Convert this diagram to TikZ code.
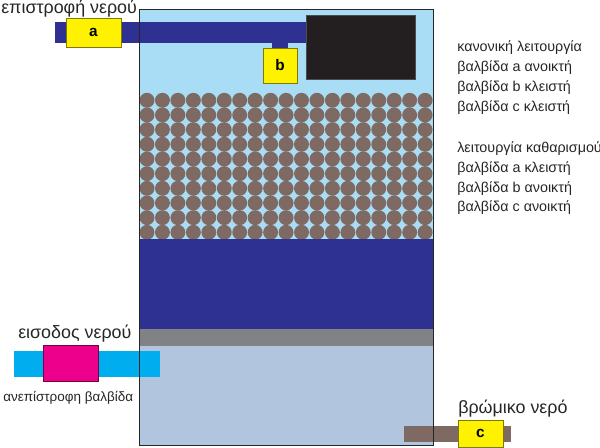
\documentclass[tikz,border=0pt]{standalone}
\usepackage{fontspec}
\setmainfont{Liberation Sans}
\definecolor{topwater}{HTML}{A9DDF5}
\definecolor{lowwater}{HTML}{B1C5DF}
\definecolor{darkblue}{HTML}{2E3192}
\definecolor{inblue}{HTML}{00AEEF}
\definecolor{pebble}{HTML}{7F6A63}
\definecolor{grayband}{HTML}{808285}
\definecolor{valveyel}{HTML}{FFF200}
\definecolor{valvepink}{HTML}{EC008C}
\definecolor{boxblack}{HTML}{231F20}
\tikzset{
  valve/.style={draw=black!50!valveyel, fill=valveyel, line width=.6pt, inner sep=0pt, font=\bfseries\fontsize{11.5}{13}\selectfont},
  note/.style={anchor=west, inner sep=0pt, font=\fontsize{10.75}{12}\selectfont, text=black!85},
  title/.style={anchor=west, inner sep=0pt, font=\fontsize{13.4}{15}\selectfont, text=black!85},
  pebblenode/.style={circle, fill=pebble, inner sep=0pt, minimum size=11.2pt}
}
\begin{document}
\begin{tikzpicture}[x=.75pt,y=-.75pt]
\useasboundingbox (0,0) rectangle (600,448);
% tank
\fill[topwater] (139,9) rectangle (433,239);
\foreach \row in {0,...,9}
  \foreach \col in {0,...,18}
    \node[pebblenode] (peb\row-\col) at (147+15.45*\col,100.3+14.67*\row){};
\fill[darkblue] (139,239) rectangle (433,329);
\fill[grayband] (139,329) rectangle (433,346);
\fill[lowwater] (139,346) rectangle (433,445);
% pipes
\fill[darkblue] (55,22) rectangle (306,43);
\fill[darkblue] (272,43) rectangle (288,49);
\fill[inblue] (14,351) rectangle (160,377);
\fill[pebble] (404,426) rectangle (511,442);
\draw[black!85, line width=.6pt] (139,9) rectangle (433,445);
% valves
\node[valve, minimum width=41.2pt, minimum height=21.7pt] (vala) at (93.5,32.5){a};
\node[valve, minimum width=25.5pt, minimum height=26.2pt] (valb) at (280,65.5){b};
\node[valve, minimum width=33.7pt, minimum height=20.2pt] (valc) at (480.5,433.5){c};
\node[draw=black!50!valvepink, fill=valvepink, line width=.6pt, inner sep=0pt, minimum width=41.2pt, minimum height=27pt] (valin) at (70.5,363){};
\node[draw=black!70, fill=boxblack, line width=.5pt, inner sep=0pt, minimum width=81.7pt, minimum height=48pt] (boxtop) at (360.5,47){};
% labels
\node[title] (lblout) at (1,9){επιστροφή νερού};
\node[title] (lblin) at (18,334){εισοδος νερού};
\node[note, font=\fontsize{10.1}{12}\selectfont] (lblcheck) at (3,398){ανεπίστροφη βαλβίδα};
\node[title] (lbldirty) at (458,409){βρώμικο νερό};
\node[note] (nrm0) at (457,48){κανονική λειτουργία};
\node[note] (nrm1) at (457,68){βαλβίδα a ανοικτή};
\node[note] (nrm2) at (457,88){βαλβίδα b κλειστή};
\node[note] (nrm3) at (457,108){βαλβίδα c κλειστή};
\node[note] (cln0) at (457,149){λειτουργία καθαρισμού};
\node[note] (cln1) at (457,169){βαλβίδα a κλειστή};
\node[note] (cln2) at (457,189){βαλβίδα b ανοικτή};
\node[note] (cln3) at (457,208){βαλβίδα c ανοικτή};
\end{tikzpicture}
\end{document}
